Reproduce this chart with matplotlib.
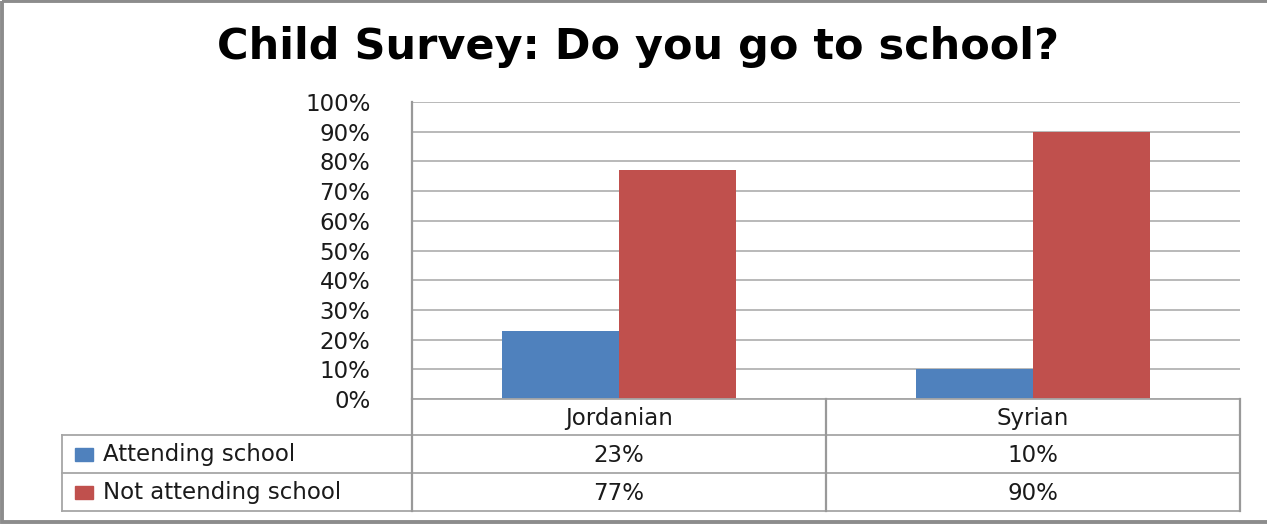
import matplotlib.pyplot as plt
from matplotlib.patches import Rectangle
from matplotlib.ticker import PercentFormatter

plt.rcParams['font.family'] = ['DejaVu Sans']

# Data
categories = ["Jordanian", "Syrian"]
series_names = ["Attending school", "Not attending school"]
attending = [23, 10]
not_attending = [77, 90]
colors = ["#4F81BD", "#C0504D"]

W, H = 1267, 527
fig = plt.figure(figsize=(W / 100, H / 100), dpi=100)


def fx(px):
    return px / W


def fy(py):
    return 1 - py / H


grid_c = "#A6A6A6"
txt_c = "#1a1a1a"

# plot area in pixel terms
left, right, top, bottom = 412, 1240, 102, 399
ax = fig.add_axes([fx(left), fy(bottom), fx(right - left), fy(top) - fy(bottom)])

bw = 0.283
x = list(range(len(categories)))
ax.bar([i - bw / 2 for i in x], attending, width=bw, color=colors[0], zorder=3)
ax.bar([i + bw / 2 for i in x], not_attending, width=bw, color=colors[1], zorder=3)

ax.set_xlim(-0.5, len(categories) - 0.5)
ax.set_ylim(0, 100)
ax.set_yticks(range(0, 101, 10))
ax.yaxis.set_major_formatter(PercentFormatter(decimals=0))
ax.tick_params(axis='y', length=0, labelsize=16.5, pad=30, colors=txt_c)
ax.set_xticks([])
ax.grid(axis='y', color=grid_c, linewidth=1.1, zorder=0)
for s in ["top", "right", "bottom"]:
    ax.spines[s].set_visible(False)
ax.spines["left"].set_color("#999999")
ax.spines["left"].set_linewidth(1.6)

# overlay for table, title and border
ov = fig.add_axes([0, 0, 1, 1], zorder=5)
ov.set_xlim(0, W)
ov.set_ylim(H, 0)
ov.axis("off")
ov.patch.set_alpha(0)

ov.text(638, 47, "Child Survey: Do you go to school?", ha="center", va="center",
        fontsize=31, fontweight="bold", color="black")

# figure border
ov.add_patch(Rectangle((2, 1), W + 10, 521, fill=False, edgecolor="#8C8C8C", linewidth=2.8))

# data table lines
rows_y = [399, 435, 473, 511]
tab_left = 62
col_x = [left, (left + right) / 2, right]
lw = 1.3
ov.plot([left, right], [rows_y[0], rows_y[0]], color=grid_c, lw=lw)
for yy in rows_y[1:]:
    ov.plot([tab_left, right], [yy, yy], color=grid_c, lw=lw)
ov.plot([tab_left, tab_left], [rows_y[1], rows_y[3]], color=grid_c, lw=lw)
for xx in col_x:
    ov.plot([xx, xx], [rows_y[0], rows_y[3]], color="#999999", lw=1.6)

cell_w = (right - left) / len(categories)
fs = 16.5
for i, cat in enumerate(categories):
    cx = left + cell_w * (i + 0.5)
    ov.text(cx, (rows_y[0] + rows_y[1]) / 2 + 1, cat, ha="center", va="center", fontsize=fs, color=txt_c)
for r, (name, vals) in enumerate(zip(series_names, [attending, not_attending])):
    cy = (rows_y[r + 1] + rows_y[r + 2]) / 2
    ov.add_patch(Rectangle((75, cy - 6.5), 18, 13, color=colors[r]))
    ov.text(103, cy + 1, name, ha="left", va="center", fontsize=fs, color=txt_c)
    for i, v in enumerate(vals):
        cx = left + cell_w * (i + 0.5)
        ov.text(cx, cy + 1, f"{v}%", ha="center", va="center", fontsize=fs, color=txt_c)

fig.savefig("out.png", dpi=100)
